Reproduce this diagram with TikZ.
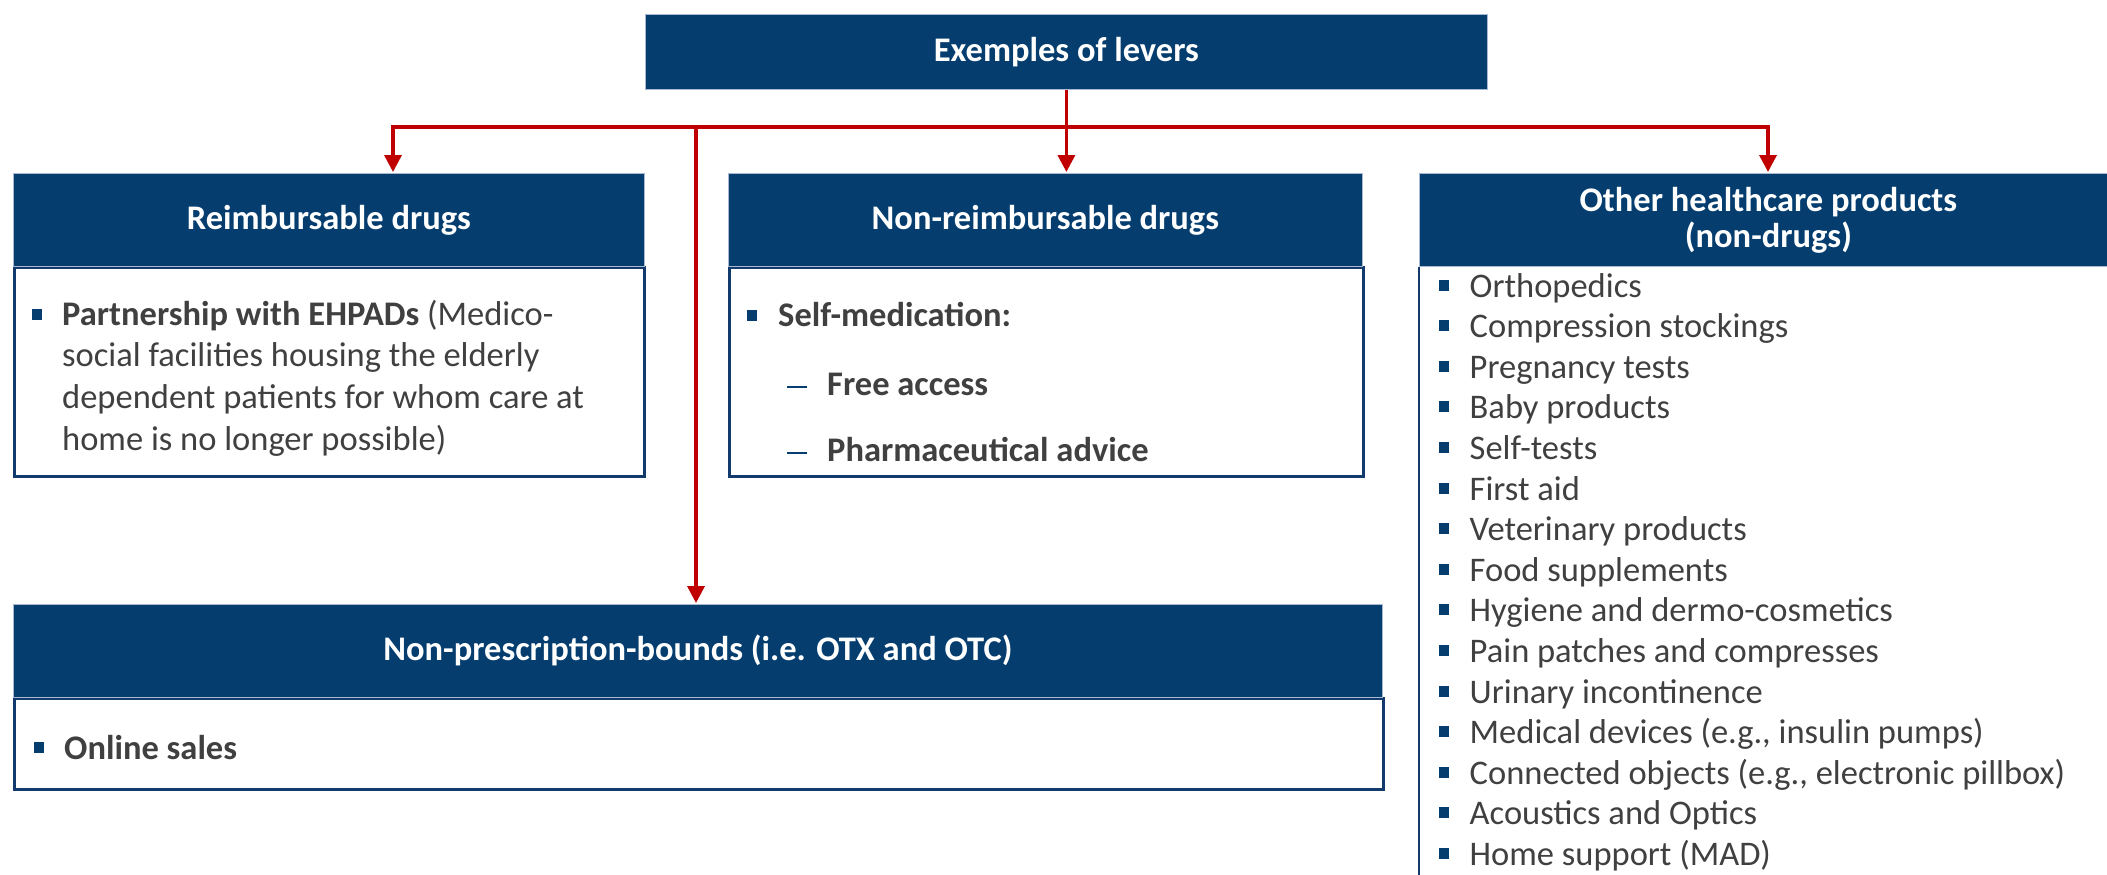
\documentclass[tikz,border=0pt]{standalone}
\usepackage{fontspec}
\setmainfont{Carlito}
\usetikzlibrary{arrows.meta}
\definecolor{hdrblue}{RGB}{4,61,110}
\definecolor{hdredge}{RGB}{170,185,210}
\definecolor{bordblue}{RGB}{18,58,108}
\definecolor{arrred}{RGB}{192,0,0}
\definecolor{txtgray}{RGB}{64,64,64}
\newcommand{\hdrfont}{\fontsize{34.5}{36}\selectfont\bfseries}
\newcommand{\bodyfont}{\fontsize{34.5}{41}\selectfont}
\tikzset{
  hdr/.style={fill=hdrblue, draw=hdredge, line width=0.8pt, text=white, font=\hdrfont, inner sep=0pt, align=center, anchor=north west},
  cbox/.style={draw=bordblue, line width=2.5pt, inner sep=0pt, anchor=north west},
  body/.style={text=txtgray, font=\bodyfont, inner sep=0pt, anchor=base west},
  bbody/.style={body, font=\bodyfont\bfseries},
  bul/.style={fill=hdrblue, minimum width=10pt, minimum height=11pt, inner sep=0pt},
  dashmark/.style={fill=hdrblue, minimum width=20pt, minimum height=2.5pt, inner sep=0pt},
  conn/.style={draw=arrred, line width=3.5pt, -{Triangle[length=17pt,width=17pt]}, shorten >=1pt},
  bus/.style={draw=arrred, line width=3.5pt, line cap=rect},
  vline/.style={draw=bordblue, line width=2.5pt}
}
\begin{document}
\begin{tikzpicture}[x=1pt,y=-1pt]
\useasboundingbox (0,0) rectangle (2107,875);
% content boxes
\node[cbox, minimum width=630pt, minimum height=209pt] (c1) at (13,266) {};
\node[cbox, minimum width=634pt, minimum height=209pt] (c2) at (728,266) {};
\node[cbox, minimum width=1369pt, minimum height=91pt] (c3) at (13,697) {};
% headers
\node[hdr, minimum width=842pt, minimum height=75pt] (top) at (645,14) {Exemples of levers};
\node[hdr, minimum width=631pt, minimum height=93pt] (h1) at (13,173) {Reimbursable drugs};
\node[hdr, minimum width=634pt, minimum height=93pt] (h2) at (728,173) {Non-reimbursable drugs};
\node[hdr, minimum width=698pt, minimum height=93pt] (h4) at (1419,173) {Other healthcare products\\(non-drugs)};
\node[hdr, minimum width=1369pt, minimum height=93pt] (h3) at (13,604) {Non-prescription-bounds (i.e. OTX and OTC)};
\coordinate (c4end) at (1419,878);
\draw[vline] (h4.south west) -- (c4end);
% connectors
\coordinate (bl) at (393,127);
\coordinate (br) at (1768,127);
\coordinate (bm) at (696,127);
\draw[bus] (bl) -- (br);
\draw[conn] (top.south) -- (top.south |- h2.north);
\draw[conn] (bl) -- (bl |- h1.north);
\draw[conn] (br) -- (br |- h4.north);
\draw[conn] (bm) -- (bm |- h3.north);
% c1 text
\node[bul] (b11) at (37,314) {};
\node[body] (t11) at (62,325) {\textbf{Partnership with EHPADs} (Medico-};
\node[body] (t12) at (62,366.5) {social facilities housing the elderly};
\node[body] (t13) at (62,408) {dependent patients for whom care at};
\node[body] (t14) at (62,450) {home is no longer possible)};
% c2 text
\node[bul] (b21) at (752,315) {};
\node[bbody] (t21) at (778,326) {Self-medication:};
\node[dashmark] (d22) at (797,387) {};
\node[bbody] (t22) at (827,395) {Free access};
\node[dashmark] (d23) at (797,453) {};
\node[bbody] (t23) at (827,461) {Pharmaceutical advice};
% c3 text
\node[bul] (b31) at (39,747) {};
\node[bbody] (t31) at (64,759) {Online sales};
% c4 list
\foreach \t [count=\i] in {Orthopedics, Compression stockings, Pregnancy tests, Baby products, Self-tests, First aid, Veterinary products, Food supplements, Hygiene and dermo-cosmetics, Pain patches and compresses, Urinary incontinence, {Medical devices (e.g., insulin pumps)}, {Connected objects (e.g., electronic pillbox)}, Acoustics and Optics, Home support (MAD)} {
  \node[bul] (ob\i) at (1444, {297+(\i-1)*40.6-12}) {};
  \node[body] (ot\i) at (1469.5, {297+(\i-1)*40.6}) {\t};
}
\end{tikzpicture}
\end{document}
